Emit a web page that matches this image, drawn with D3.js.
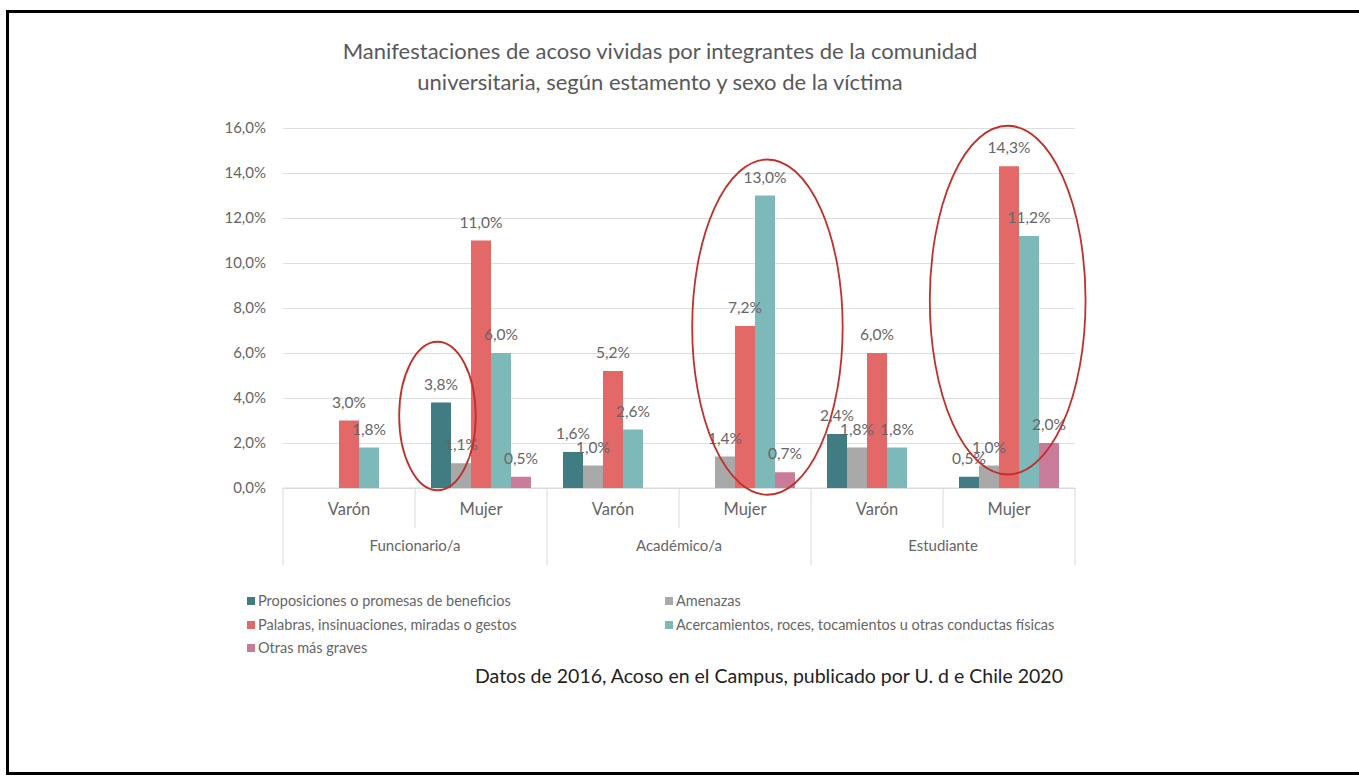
<!DOCTYPE html>
<html lang="es">
<head>
    <meta charset="utf-8">
    <title>Acoso en el Campus</title>
    <script type="text/javascript" src="https://cdn.jsdelivr.net/npm/d3@7"></script>
    <style>
        body { margin: 0; background: white; }
        text { font-family: Lato, "Open Sans", sans-serif; }
        .axis .domain { display: none; }
        .y.axis line { stroke: #dedede; }
        .y.axis text, .x.axis text { fill: #666; font-size: 15px; }
        .x.axis text { font-size: 16.5px; }
    </style>
</head>
<body>
    <div id="chart"></div>
    <script type="text/javascript">
        // data (percent of victims)
        const groups = ["Funcionario/a", "Académico/a", "Estudiante"];
        const sexes = ["Varón", "Mujer"];
        const seriesNames = [
            "Proposiciones o promesas de beneficios",
            "Amenazas",
            "Palabras, insinuaciones, miradas o gestos",
            "Acercamientos, roces, tocamientos u otras conductas físicas",
            "Otras más graves"
        ];
        // order: Funcionario V, M, Académico V, M, Estudiante V, M
        const proposiciones = [0, 3.8, 1.6, 0, 2.4, 0.5];
        const amenazas = [0, 1.1, 1.0, 1.4, 1.8, 1.0];
        const palabras = [3.0, 11.0, 5.2, 7.2, 6.0, 14.3];
        const acercamientos = [1.8, 6.0, 2.6, 13.0, 1.8, 11.2];
        const otras = [0, 0.5, 0, 0.7, 0, 2.0];
        const yTicks = [0, 2, 4, 6, 8, 10, 12, 14, 16];
        const colors = ["#417c82", "#a8a8a8", "#e36868", "#7db9b8", "#c97b9a"];

        const width = 1359;
        const height = 777;
        const plot = {left: 283, right: 1075, top: 128, bottom: 488};

        const svg = d3.select("#chart")
            .append("svg")
            .attr("width", width)
            .attr("height", height);

        // frame
        svg.append("rect")
            .attr("x", 7.5).attr("y", 11.5)
            .attr("width", width + 20).attr("height", 762)
            .attr("fill", "none")
            .attr("stroke", "black")
            .attr("stroke-width", 3);

        // title
        svg.append("text")
            .attr("x", 660).attr("y", 59)
            .attr("text-anchor", "middle")
            .attr("fill", "#595959")
            .style("font-size", "22px")
            .selectAll("tspan")
            .data(["Manifestaciones de acoso vividas por integrantes de la comunidad",
                   "universitaria, según estamento y sexo de la víctima"])
            .enter()
            .append("tspan")
                .attr("x", 660)
                .attr("dy", (d, i) => i === 0 ? 0 : 31)
                .text(d => d);

        const cells = [];
        groups.forEach(g => sexes.forEach(s => cells.push(g + "|" + s)));

        const rows = cells.map((c, i) => ({
            cell: c,
            values: [proposiciones[i], amenazas[i], palabras[i], acercamientos[i], otras[i]]
        }));

        const x0 = d3.scaleBand()
            .domain(cells)
            .range([plot.left, plot.right]);

        const xg = d3.scaleBand()
            .domain(groups)
            .range([plot.left, plot.right]);

        const x1 = d3.scaleBand()
            .domain(d3.range(seriesNames.length))
            .range([0, x0.bandwidth()])
            .paddingOuter(0.8);

        const y = d3.scaleLinear()
            .domain([0, 16])
            .range([plot.bottom, plot.top]);

        // y axis with gridlines
        svg.append("g")
            .attr("class", "axis y")
            .attr("transform", `translate(${plot.left}, 0)`)
            .call(d3.axisLeft(y)
                .tickValues(yTicks)
                .tickSize(-(plot.right - plot.left))
                .tickPadding(17)
                .tickFormat(d => d.toFixed(1).replace(".", ",") + "%"));

        // x axis baseline
        svg.append("line")
            .attr("x1", plot.left).attr("x2", plot.right)
            .attr("y1", y(0)).attr("y2", y(0))
            .attr("stroke", "#d9d9d9");

        // separators of the two-level category axis
        svg.append("g")
            .selectAll("line")
            .data(cells.concat(["end"]))
            .enter()
            .append("line")
                .attr("x1", (d, i) => i < cells.length ? x0(d) : plot.right)
                .attr("x2", (d, i) => i < cells.length ? x0(d) : plot.right)
                .attr("y1", y(0))
                .attr("y2", (d, i) => i % 2 === 0 ? 565 : 528)
                .attr("stroke", "#d9d9d9");

        svg.append("g")
            .attr("class", "axis x")
            .attr("transform", `translate(0, ${y(0)})`)
            .call(d3.axisBottom(x0).tickSize(0).tickPadding(15)
                .tickFormat(d => d.split("|")[1]));

        svg.append("g")
            .attr("class", "axis x groups")
            .attr("transform", `translate(0, ${y(0)})`)
            .call(d3.axisBottom(xg).tickSize(0).tickPadding(52))
            .selectAll("text")
            .style("font-size", "15px");

        // bars
        const cellG = svg.append("g")
            .selectAll("g")
            .data(rows)
            .enter()
            .append("g")
                .attr("transform", d => `translate(${x0(d.cell)}, 0)`);

        cellG.selectAll("rect")
            .data(d => d.values)
            .enter()
            .append("rect")
                .attr("x", (d, i) => x1(i))
                .attr("y", d => y(d))
                .attr("width", x1.bandwidth())
                .attr("height", d => y(0) - y(d))
                .attr("fill", (d, i) => colors[i]);

        // data labels
        cellG.selectAll("text")
            .data(d => d.values.map((v, i) => ({v, i})).filter(o => o.v > 0))
            .enter()
            .append("text")
                .attr("x", d => x1(d.i) + x1.bandwidth() / 2)
                .attr("y", d => y(d.v) - 13)
                .attr("text-anchor", "middle")
                .attr("fill", "#666")
                .style("font-size", "15.5px")
                .text(d => d.v.toFixed(1).replace(".", ",") + "%");

        // hand-drawn style highlight ellipses
        const highlights = [
            {cell: "Funcionario/a|Mujer", at: 0.17, spread: 0.29, top: 6.5, bottom: -0.1},
            {cell: "Académico/a|Mujer", at: 0.67, spread: 0.57, top: 14.6, bottom: -0.3},
            {cell: "Estudiante|Mujer", at: 0.49, spread: 0.59, top: 16.1, bottom: 0.6}
        ];
        svg.append("g")
            .selectAll("ellipse")
            .data(highlights)
            .enter()
            .append("ellipse")
                .attr("cx", d => x0(d.cell) + d.at * x0.bandwidth())
                .attr("cy", d => (y(d.top) + y(d.bottom)) / 2)
                .attr("rx", d => d.spread * x0.bandwidth())
                .attr("ry", d => (y(d.bottom) - y(d.top)) / 2)
                .attr("fill", "none")
                .attr("stroke", "#c0302c")
                .attr("stroke-width", 1.8);

        // legend
        const legendPos = [[247, 601], [665, 601], [247, 625], [665, 625], [247, 648]];
        const legend = svg.append("g")
            .selectAll("g")
            .data(seriesNames)
            .enter()
            .append("g")
                .attr("transform", (d, i) => `translate(${legendPos[i][0]}, ${legendPos[i][1]})`);

        legend.append("rect")
            .attr("x", 0).attr("y", -4)
            .attr("width", 8).attr("height", 8)
            .attr("fill", (d, i) => colors[i]);

        legend.append("text")
            .attr("x", 11).attr("y", 5)
            .attr("fill", "#666")
            .style("font-size", "14.5px")
            .text(d => d);

        // source note
        svg.append("text")
            .attr("x", 1063).attr("y", 683)
            .attr("text-anchor", "end")
            .attr("fill", "#222")
            .style("font-size", "19.5px")
            .text("Datos de 2016, Acoso en el Campus, publicado por U. d e Chile 2020");
    </script>
</body>
</html>
